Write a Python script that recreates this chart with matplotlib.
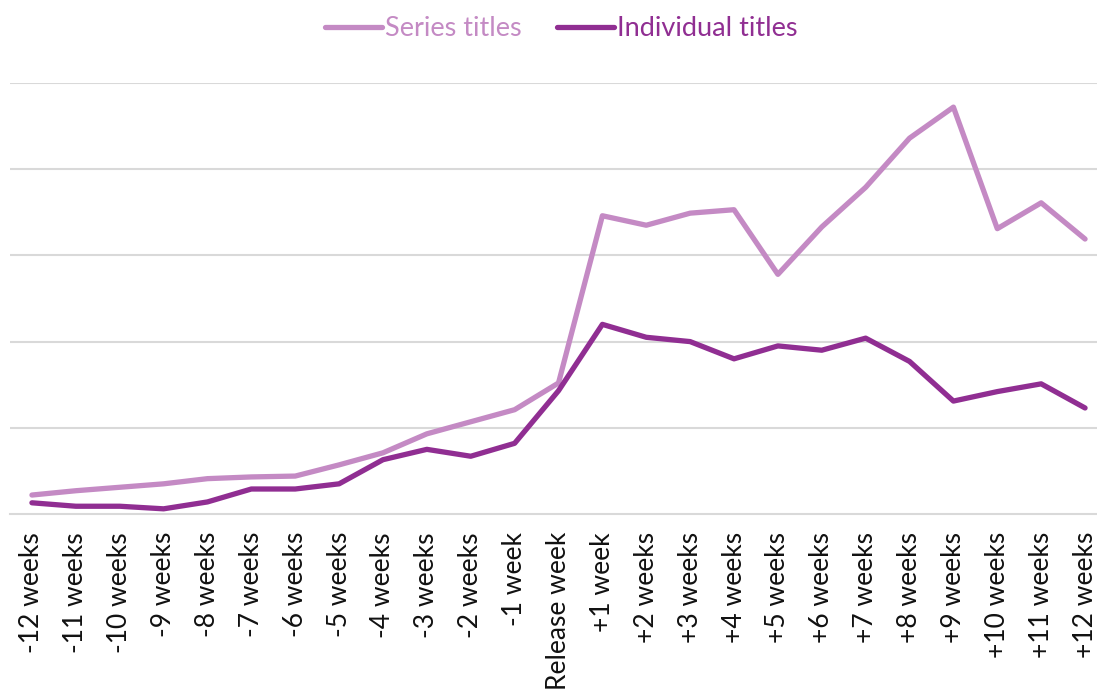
import matplotlib.pyplot as plt

weeks = ['-12 weeks', '-11 weeks', '-10 weeks', '-9 weeks', '-8 weeks', '-7 weeks',
         '-6 weeks', '-5 weeks', '-4 weeks', '-3 weeks', '-2 weeks', '-1 week',
         'Release week', '+1 week', '+2 weeks', '+3 weeks', '+4 weeks', '+5 weeks',
         '+6 weeks', '+7 weeks', '+8 weeks', '+9 weeks', '+10 weeks', '+11 weeks',
         '+12 weeks']

series_titles = [0.22, 0.27, 0.31, 0.35, 0.41, 0.43, 0.44, 0.57, 0.71, 0.93, 1.07, 1.21,
                 1.52, 3.46, 3.35, 3.49, 3.53, 2.78, 3.33, 3.79, 4.36, 4.72, 3.31, 3.61,
                 3.19]
individual_titles = [0.13, 0.09, 0.09, 0.06, 0.14, 0.29, 0.29, 0.35, 0.63, 0.75, 0.67, 0.82,
                     1.43, 2.20, 2.05, 2.00, 1.80, 1.95, 1.90, 2.04, 1.77, 1.31, 1.42, 1.51,
                     1.23]

light = '#C48AC4'
dark = '#902E92'

plt.rcParams['font.family'] = ['Lato', 'DejaVu Sans']

fig = plt.figure(figsize=(10.97, 6.94), dpi=100)
ax = fig.add_axes([10 / 1097, 180 / 694, 1097 / 1097, 431 / 694])

x = range(len(weeks))
ax.plot(x, series_titles, color=light, lw=3.8, label='Series titles', solid_capstyle='round')
ax.plot(x, individual_titles, color=dark, lw=3.8, label='Individual titles', solid_capstyle='round')

ax.set_xlim(-0.5, len(weeks) - 0.5)
ax.set_ylim(0, 5)
ax.set_yticks([1, 2, 3, 4, 5])
ax.set_yticklabels([])
ax.tick_params(axis='y', length=0)
ax.grid(axis='y', color='#D9D9D9', lw=1.5)
ax.set_axisbelow(True)
for s in ['top', 'right', 'left']:
    ax.spines[s].set_visible(False)
ax.spines['bottom'].set_color('#D9D9D9')
ax.spines['bottom'].set_linewidth(1.5)

ax.set_xticks(list(x))
ax.set_xticklabels(weeks, rotation=90, fontsize=19, color='#111111')
ax.tick_params(axis='x', length=0, pad=13)

leg = fig.legend(loc='upper center', bbox_to_anchor=(0.512, 1.012), ncol=2, frameon=False,
                 fontsize=19.5, handlelength=2.1, handletextpad=0.12, columnspacing=1.3)
for text, c in zip(leg.get_texts(), [light, dark]):
    text.set_color(c)

fig.savefig('out.png', dpi=100)
